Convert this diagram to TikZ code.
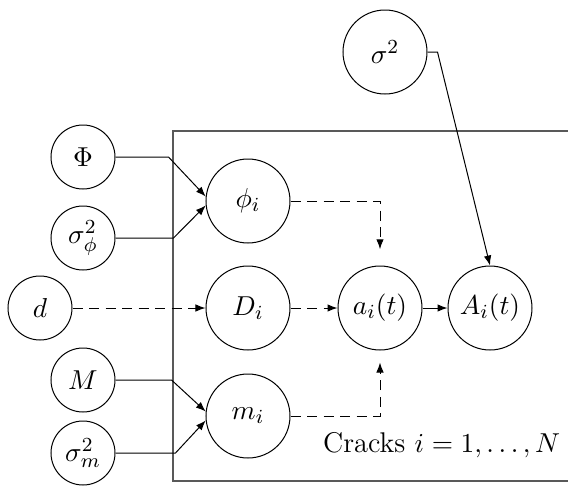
\documentclass[tikz,border=0pt]{standalone}
\usetikzlibrary{arrows.meta}
\begin{document}
\begin{tikzpicture}[
        x=0.4pt, y=-0.4pt,
        every node/.style={font=\fontsize{11.4}{14}\selectfont},
        hyper/.style={circle, draw, thin, minimum size=25.6pt, inner sep=0pt},
        latent/.style={circle, draw, thin, minimum size=33.6pt, inner sep=0pt},
        link/.style={-{Latex[length=4pt,width=3pt]}, thin},
        dlink/.style={link, dash pattern=on 4pt off 2.6pt},
        plate/.style={gray!70!black, line width=0.6pt}
    ]
        \useasboundingbox (0,0) rectangle (568,487);

        % Plate over the cracks
        \draw[plate] (575,131) -- (173,131) -- (173,481) -- (575,481);
        \node[anchor=base east] (cracks) at (569,452) {Cracks $i=1,\ldots,N$};

        % Hyperparameters
        \node[hyper] (Phi) at (83,157) {$\Phi$};
        \node[hyper] (sigphi) at (83,238) {$\sigma^2_\phi$};
        \node[hyper] (d) at (40,308) {$d$};
        \node[hyper] (M) at (83,380) {$M$};
        \node[hyper] (sigm) at (83,453) {$\sigma^2_m$};
        \node[latent] (sig) at (385,52) {$\sigma^2$};

        % Crack variables
        \node[latent] (phi) at (248,201) {$\phi_i$};
        \node[latent] (D) at (248,308) {$D_i$};
        \node[latent] (m) at (248,416) {$m_i$};
        \node[latent] (a) at (380,308) {$a_i(t)$};
        \node[latent] (A) at (490,308) {$A_i(t)$};

        % Diagram
        \draw[link] (Phi.east) -- ++(53,0) -- (phi.174);
        \draw[link] (sigphi.east) -- ++(58,0) -- (phi.186);
        \draw[dlink] (d.east) -- (D.west);
        \draw[link] (M.east) -- ++(56,0) -- (m.174);
        \draw[link] (sigm.east) -- ++(60,0) -- (m.186);
        \draw[dlink, shorten >=6.5pt] (phi.east) -| (a.north);
        \draw[dlink] (D.east) -- (a.west);
        \draw[dlink, shorten >=4.8pt] (m.east) -| (a.south);
        \draw[link] (a.east) -- (A.west);
        \draw[link] (sig.east) -- ++(10,0) -- (A.north);
    \end{tikzpicture}
\end{document}
